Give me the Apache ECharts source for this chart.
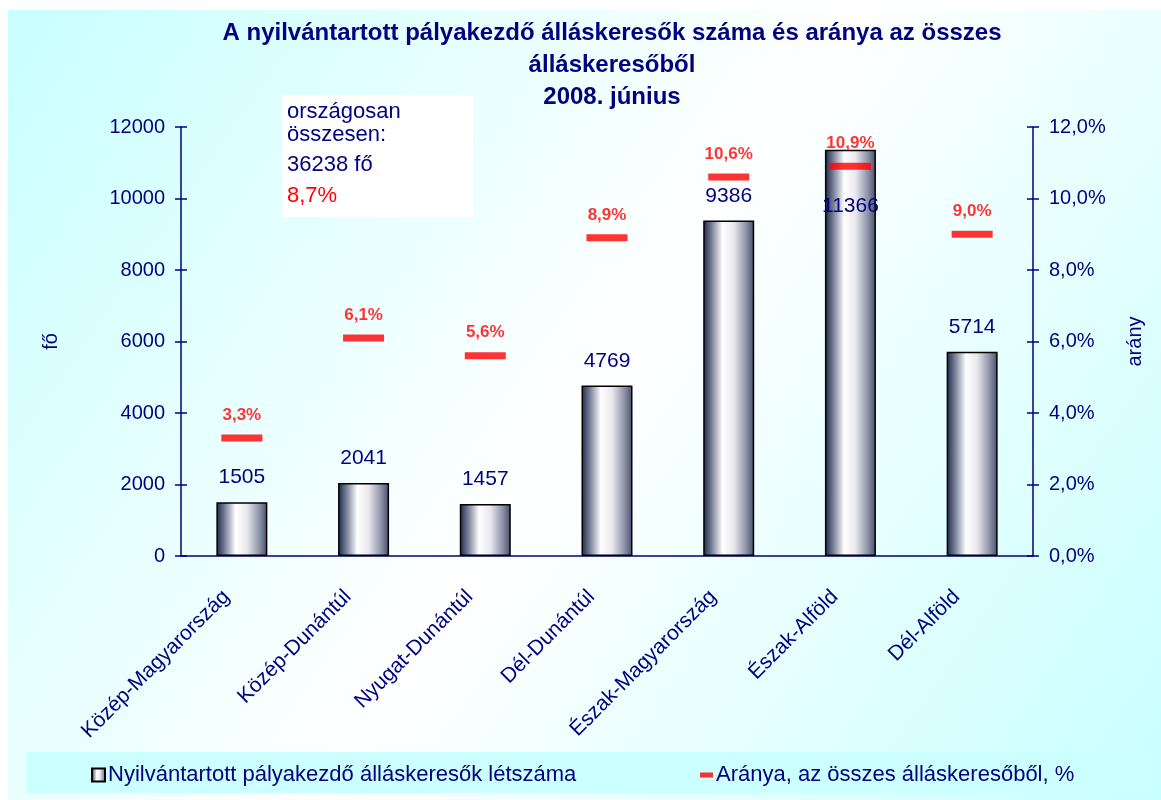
<!DOCTYPE html>
<html>
<head>
<meta charset="utf-8">
<script src="https://cdn.jsdelivr.net/npm/echarts@6/dist/echarts.min.js"></script>
<style>
html,body{margin:0;padding:0;background:#ffffff;}
#chart{width:1161px;height:800px;}
</style>
</head>
<body>
<div id="chart"></div>
<script>
const categories = ['Közép-Magyarország','Közép-Dunántúl','Nyugat-Dunántúl','Dél-Dunántúl','Észak-Magyarország','Észak-Alföld','Dél-Alföld'];
const counts = [1505, 2041, 1457, 4769, 9386, 11366, 5714];
const rates = [3.3, 6.1, 5.6, 8.9, 10.6, 10.9, 9.0];
const leftTicks = [0, 2000, 4000, 6000, 8000, 10000, 12000];
const rightTicks = [0, 2, 4, 6, 8, 10, 12];
const titleLines = ['A nyilvántartott pályakezdő álláskeresők száma és aránya az összes', 'álláskeresőből', '2008. június'];
const infoLines = ['országosan', 'összesen:', '36238 fő'];
const infoRate = '8,7%';
const seriesNames = ['Nyilvántartott pályakezdő álláskeresők létszáma', 'Aránya, az összes álláskeresőből, %'];

const NAVY = '#000080';
const FONT = '"Liberation Sans", Arial, sans-serif';
const fmtPct = v => v.toFixed(1).replace('.', ',') + '%';

const barGrad = new echarts.graphic.LinearGradient(0, 0, 1, 0, [
  {offset: 0, color: '#1c2848'},
  {offset: 0.15, color: '#6e7690'},
  {offset: 0.38, color: '#ffffff'},
  {offset: 0.6, color: '#e8e8ee'},
  {offset: 0.85, color: '#8a8fa4'},
  {offset: 1, color: '#454c6c'}
]);

const maxIdx = counts.indexOf(Math.max(...counts));
const barData = counts.map((v, i) => i === maxIdx
  ? {value: v, label: {position: 'insideTop', distance: 46}}
  : v);

const chart = echarts.init(document.getElementById('chart'), null, {renderer: 'canvas'});
chart.setOption({
  animation: false,
  textStyle: {fontFamily: FONT},
  graphic: [
    {
      type: 'rect', z: -10, silent: true,
      shape: {x: 8, y: 10, width: 1153, height: 790},
      style: {fill: new echarts.graphic.LinearGradient(0, 0, 1, 1, [
        {offset: 0, color: '#c8ffff'},
        {offset: 0.5, color: '#ffffff'},
        {offset: 1, color: '#c8ffff'}
      ])}
    },
    {
      type: 'rect', z: -5, silent: true,
      shape: {x: 26, y: 752, width: 1124, height: 41},
      style: {fill: '#ccffff'}
    },
    {
      type: 'rect', z: 5, silent: true,
      shape: {x: 282, y: 95, width: 191, height: 122},
      style: {fill: '#ffffff'}
    },
    {type: 'text', z: 6, left: 287, top: 101, style: {text: infoLines[0], fill: NAVY, font: '22px ' + FONT}},
    {type: 'text', z: 6, left: 287, top: 124, style: {text: infoLines[1], fill: NAVY, font: '22px ' + FONT}},
    {type: 'text', z: 6, left: 287, top: 154, style: {text: infoLines[2], fill: NAVY, font: '22px ' + FONT}},
    {type: 'text', z: 6, left: 287, top: 185, style: {text: infoRate, fill: '#ff0000', font: '22px ' + FONT}}
  ],
  title: {
    text: titleLines.join('\n'),
    left: 607, top: 12, textAlign: 'center',
    textStyle: {color: NAVY, fontSize: 24, fontWeight: 'bold', lineHeight: 32, fontFamily: FONT}
  },
  legend: [
    {
      data: [{name: seriesNames[0], icon: 'rect'}], left: 91, top: 764, padding: 0,
      itemWidth: 13, itemHeight: 13, itemGap: 5,
      textStyle: {color: NAVY, fontSize: 22, fontFamily: FONT, padding: [0, 0, 0, -2]}
    },
    {
      data: [{name: seriesNames[1], icon: 'rect'}], left: 700, top: 764, padding: 0,
      itemWidth: 13, itemHeight: 5, itemGap: 5,
      textStyle: {color: NAVY, fontSize: 22, fontFamily: FONT, padding: [0, 0, 0, -2]}
    }
  ],
  grid: {left: 181, right: 128, top: 127, bottom: 244, containLabel: false},
  xAxis: [
    {
      type: 'category', data: categories, position: 'bottom',
      axisLine: {lineStyle: {color: NAVY, width: 1.5}},
      axisTick: {lineStyle: {color: NAVY, width: 1.5}, length: 6},
      axisLabel: {rotate: 45, color: NAVY, fontSize: 21, margin: 22, fontFamily: FONT, interval: 0,
        padding: [0, 22, 0, 0]}
    },
    {
      type: 'category', data: categories, position: 'bottom',
      axisLine: {show: false},
      axisTick: {inside: true, lineStyle: {color: NAVY, width: 1.5}, length: 6},
      axisLabel: {show: false}
    }
  ],
  yAxis: [
    {
      type: 'value', min: 0, max: 12000, interval: 2000, position: 'left',
      name: 'fő', nameLocation: 'middle', nameGap: 120, nameRotate: 90,
      nameTextStyle: {color: NAVY, fontSize: 20, fontFamily: FONT},
      axisLine: {show: true, lineStyle: {color: NAVY, width: 1.5}},
      axisTick: {show: true, length: 6, lineStyle: {color: NAVY, width: 1.5}},
      axisLabel: {color: NAVY, fontSize: 20, margin: 16, fontFamily: FONT,
        customValues: leftTicks, formatter: v => String(v)},
      splitLine: {show: false}
    },
    {
      type: 'value', min: 0, max: 12, interval: 2, position: 'right',
      name: 'arány', nameLocation: 'middle', nameGap: 92, nameRotate: 90,
      nameTextStyle: {color: NAVY, fontSize: 20, fontFamily: FONT},
      axisLine: {show: true, lineStyle: {color: NAVY, width: 1.5}},
      axisTick: {show: true, length: 6, lineStyle: {color: NAVY, width: 1.5}},
      axisLabel: {color: NAVY, fontSize: 20, margin: 16, fontFamily: FONT,
        customValues: rightTicks, formatter: v => fmtPct(v)},
      splitLine: {show: false}
    },
    {
      type: 'value', min: 0, max: 12000, interval: 2000, position: 'left',
      axisLine: {show: false}, axisLabel: {show: false}, splitLine: {show: false},
      axisTick: {show: true, inside: true, length: 6, lineStyle: {color: NAVY, width: 1.5}}
    },
    {
      type: 'value', min: 0, max: 12, interval: 2, position: 'right',
      axisLine: {show: false}, axisLabel: {show: false}, splitLine: {show: false},
      axisTick: {show: true, inside: true, length: 6, lineStyle: {color: NAVY, width: 1.5}}
    }
  ],
  series: [
    {
      name: seriesNames[0], type: 'bar', data: barData, xAxisIndex: 0, yAxisIndex: 0,
      barWidth: 51,
      itemStyle: {color: barGrad, borderColor: '#000000', borderWidth: 1.5},
      label: {show: true, position: 'top', distance: 14, color: NAVY, fontSize: 21, fontFamily: FONT},
      z: 2
    },
    {
      name: seriesNames[1], type: 'scatter', data: rates, xAxisIndex: 0, yAxisIndex: 1,
      symbol: 'rect', symbolSize: [41, 7],
      itemStyle: {color: '#ff0000'},
      label: {show: true, position: 'top', distance: 11, color: '#ff0000', fontSize: 17,
        fontWeight: 'bold', fontFamily: FONT, formatter: p => fmtPct(p.value)},
      z: 3
    }
  ]
});
</script>
</body>
</html>
